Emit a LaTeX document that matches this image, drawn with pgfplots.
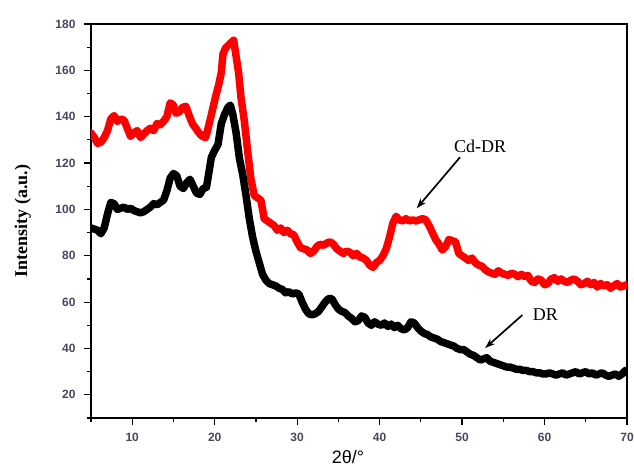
\documentclass[border=0pt]{standalone}
\usepackage{fontspec}
\setmainfont{Liberation Serif}
\newfontfamily\sansfnt{Liberation Sans}
\usepackage{pgfplots}
\pgfplotsset{compat=1.18}
\usetikzlibrary{arrows.meta}
\definecolor{ticklab}{RGB}{70,70,95}

\pgfplotstableread{
x y
5.0 133
5.4 131
5.8 128.5
6.2 129
6.6 131
7.0 134
7.4 139
7.8 140.5
8.2 138
8.6 139
9.0 138.5
9.4 135
9.8 131.5
10.2 133
10.6 134
11.0 131
11.4 132.5
11.8 134
12.2 135
12.6 134
13.0 137
13.4 136.5
13.8 138
14.2 140
14.6 146
15.0 145
15.3 141.5
15.7 142
16.1 144
16.5 144.5
16.9 140.5
17.3 137
17.7 135
18.1 133
18.5 131.5
18.9 131
19.2 135
19.5 139.5
19.8 144
20.1 148.5
20.5 154
20.8 159
21.0 167
21.3 169.5
21.7 171
22.0 172
22.3 173
22.6 166
22.9 159
23.2 148
23.6 138
24.0 125
24.4 113
24.8 106
25.2 105
25.6 104
26.0 96
26.4 95
26.8 94
27.2 93
27.6 91
28.0 92
28.4 90
28.8 91
29.2 89.5
29.6 89
30.0 86
30.4 83.5
30.8 83
31.2 82.5
31.6 81
32.0 82
32.4 84
32.8 85
33.2 84.5
33.6 85.5
34.0 86
34.4 85
34.8 83
35.2 82
35.6 81
36.0 82
36.4 81.5
36.8 80
37.2 81
37.6 79.5
38.0 79
38.4 78
38.8 76
39.2 75
39.6 77
40.0 78
40.4 80
40.8 83
41.2 88
41.6 94
42.0 97
42.4 95.5
42.8 95
43.2 96
43.6 95
44.0 95.5
44.4 95
44.8 95.5
45.2 96
45.6 95.5
46.0 93
46.4 90
46.8 87
47.2 85
47.6 82.5
48.0 84
48.4 87
48.8 86.5
49.2 86
49.6 81
50.0 80
50.4 79
50.8 78
51.2 79
51.6 77
52.0 76
52.4 75.5
52.8 74
53.2 73
53.6 72.5
54.0 72
54.4 73.5
54.8 72.5
55.2 72
55.6 71.5
56.0 72.5
56.4 72
56.8 71
57.2 72
57.6 71
58.0 71.5
58.4 69
58.8 68.5
59.2 70
59.6 69.5
60.0 67.5
60.4 68
60.8 70
61.2 70.5
61.6 69
62.0 70
62.4 69
62.8 68.5
63.2 69.5
63.6 70
64.0 69
64.4 67.5
64.8 68
65.2 69
65.6 67.5
66.0 68.5
66.4 66.5
66.8 68
67.2 67
67.6 67.5
68.0 66
68.4 67
68.8 68
69.2 66.5
69.6 67
70.0 67.5
}\cddr

\pgfplotstableread{
x y
5.0 92
5.4 91.5
5.8 91
6.2 89.5
6.6 92
7.0 98
7.4 103
7.8 102.5
8.2 100
8.6 100.5
9.0 101
9.4 100
9.8 100.5
10.2 99.5
10.6 99
11.0 98.5
11.4 99
11.8 100
12.2 101
12.6 102.5
13.0 102
13.4 103
13.8 104
14.2 108
14.6 113.5
15.0 115.5
15.4 114.5
15.8 110
16.2 109
16.6 111.5
17.0 113
17.4 110
17.8 107
18.2 106.5
18.6 109
19.0 109.5
19.3 116
19.6 122.5
20.0 125.5
20.4 128
20.8 137
21.2 141
21.6 144
21.9 145
22.2 141
22.6 133
23.0 122
23.4 115
23.8 106
24.2 96
24.6 88
25.0 82
25.4 77
25.8 72
26.2 69.5
26.6 68
27.0 67.5
27.4 67
27.8 66
28.2 65.5
28.6 64
29.0 64.5
29.4 63.5
29.8 64
30.2 63.5
30.6 60
31.0 57
31.4 55
31.8 54.5
32.2 55
32.6 56
33.0 58
33.4 60
33.8 61.5
34.2 61.5
34.6 59
35.0 57
35.4 56
35.8 55.5
36.2 54
36.6 53
37.0 51.5
37.4 52
37.8 54
38.2 53.5
38.6 51
39.0 50
39.4 51.5
39.8 50.5
40.2 50
40.6 51
41.0 49.5
41.4 50.5
41.8 49
42.2 50
42.6 48.5
43.0 48
43.4 49
43.8 51.5
44.2 51
44.6 49
45.0 47.5
45.4 46.5
45.8 46
46.2 45
46.6 44.5
47.0 44
47.4 43
47.8 42.5
48.2 42
48.6 41.5
49.0 41
49.4 40
49.8 39.5
50.2 39.5
50.6 38.5
51.0 37.5
51.4 37
51.8 36
52.2 35
52.6 35.5
53.0 36
53.4 34.5
53.8 34
54.2 33.5
54.6 33
55.0 32.5
55.4 32
55.8 32
56.2 31.5
56.6 31
57.0 31
57.4 30.5
57.8 30.5
58.2 30
58.6 30
59.0 29.5
59.4 29.5
59.8 29
60.2 29
60.6 29.5
61.0 29
61.4 28.5
61.8 29
62.2 29.5
62.6 28.5
63.0 29
63.4 29.5
63.8 30
64.2 29
64.6 29.5
65.0 30
65.4 29
65.8 29.5
66.2 28.5
66.6 29
67.0 29.5
67.4 28.5
67.8 28
68.2 28.5
68.6 29
69.0 28
69.4 29
69.8 30.5
70.0 30
}\dr

\begin{document}
\begin{tikzpicture}
\useasboundingbox (-91pt,-50pt) rectangle (543pt,418pt);
\begin{axis}[
  scale only axis, width=536pt, height=394pt,
  at={(0,0)}, anchor=south west,
  xmin=5, xmax=70, ymin=10, ymax=180,
  xtick={10,20,...,70}, ytick={20,40,...,180},
  minor xtick={5,15,...,65}, minor ytick={10,30,...,170},
  tick pos=left, tick align=outside,
  major tick length=7pt, minor tick length=4pt,
  every tick/.style={black, line width=1.2pt},
  axis line style={line width=1.2pt},
  ticklabel style={font=\sansfnt\bfseries\fontsize{12}{14}\selectfont, text=ticklab},
  xticklabel style={yshift=-5pt},
  yticklabel style={xshift=-5pt},
  /pgf/number format/assume math mode=true,
  xlabel={2θ/°},
  ylabel={Intensity (a.u.)},
  every axis x label/.style={at={(axis description cs:0.4795,-0.099)}, anchor=center, font=\sansfnt\fontsize{18}{20}\selectfont},
  every axis y label/.style={at={(axis description cs:-0.127,0.5)}, rotate=90, anchor=center, font=\bfseries\fontsize{18}{20}\selectfont},
  clip=true,
]
\addplot[red, line width=7.5pt, line join=round, line cap=round] table[x=x,y=y] {\cddr};
\addplot[black, line width=7.5pt, line join=round, line cap=round] table[x=x,y=y] {\dr};
\node[font=\fontsize{18}{20}\selectfont] at (axis cs:52.2,127.2) {Cd-DR};
\draw[line width=1.7pt, -{Stealth[length=10pt,width=7pt]}] (axis cs:49.75,122.5) -- (axis cs:44.5,100.5);
\node[font=\fontsize{18}{20}\selectfont] at (axis cs:60.1,54.4) {DR};
\draw[line width=1.7pt, -{Stealth[length=10pt,width=7pt]}] (axis cs:57.3,54.4) -- (axis cs:52.8,40.2);
\end{axis}
\end{tikzpicture}
\end{document}
